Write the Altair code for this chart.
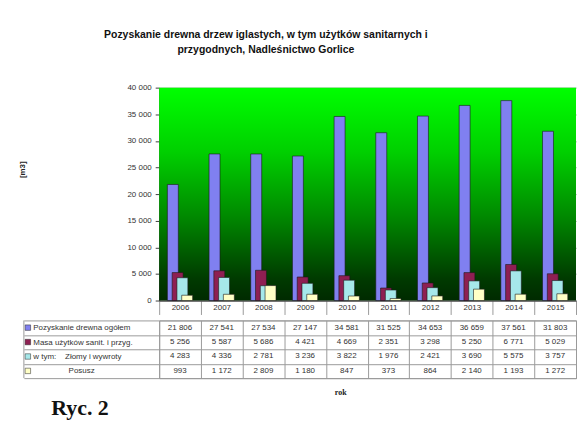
import altair as alt
import pandas as pd

# Pozyskanie drewna drzew iglastych (m3), Nadleśnictwo Gorlice
lata = ["2006", "2007", "2008", "2009", "2010", "2011", "2012", "2013", "2014", "2015"]
ogolem = [21806, 27541, 27534, 27147, 34581, 31525, 34653, 36659, 37561, 31803]
sanitarne = [5256, 5587, 5686, 4421, 4669, 2351, 3298, 5250, 6771, 5029]
zlomy = [4283, 4336, 2781, 3236, 3822, 1976, 2421, 3690, 5575, 3757]
posusz = [993, 1172, 2809, 1180, 847, 373, 864, 2140, 1193, 1272]

NBSP = "\u00a0"
ZWSP = "\u200b"  # keeps the leading spaces of the label from being trimmed
nazwy = [
    "Pozyskanie drewna ogółem",
    "Masa użytków sanit. i przyg.",
    "w tym:" + NBSP * 4 + "Złomy i wywroty",
    ZWSP + NBSP * 16 + "Posusz",
]
kolory = ["#8080f0", "#8e1f52", "#a6e8ea", "#ffffc6"]
przesuniecia = [-7.2, -2.4, 2.4, 7.2]

rows = []
for nazwa, seria in zip(nazwy, [ogolem, sanitarne, zlomy, posusz]):
    for rok, v in zip(lata, seria):
        rows.append({"rok": rok, "seria": nazwa, "wartosc": v})
df = pd.DataFrame(rows)

FONT = "Liberation Sans"
W = 419
GRAY = "#9a9a9a"


def x_scale():
    return alt.Scale(type="band", domain=lata, paddingInner=0, paddingOuter=0)


# --- wykres słupkowy ---
os_x = alt.Axis(
    title=None, orient="bottom", tickBand="extent", tickSize=14, tickColor=GRAY,
    domainColor="#303030", labelAngle=0, labelPadding=-11, labelFont=FONT,
    labelFontSize=8, labelColor="#333333",
)
os_y = alt.Axis(
    values=list(range(0, 40001, 5000)), format=",d", title="[m3]",
    titleX=-133, titleY=82, titleFont=FONT, titleFontSize=8, titleFontWeight="bold",
    titleColor="#222222", labelFont=FONT, labelFontSize=8, labelColor="#333333",
    labelPadding=4, tickSize=4, tickColor="#404040", domainColor="#404040",
    gridColor="#000000", gridOpacity=0.45,
)

gradient = alt.LinearGradient(
    gradient="linear",
    stops=[
        alt.GradientStop(color="#00ff00", offset=0),
        alt.GradientStop(color="#00d000", offset=0.3),
        alt.GradientStop(color="#008a00", offset=0.6),
        alt.GradientStop(color="#003a00", offset=0.9),
        alt.GradientStop(color="#002a00", offset=1),
    ],
    x1=0, x2=0, y1=0, y2=1,
)
tlo = alt.Chart(pd.DataFrame({"a": [0]})).mark_rect(color=gradient).encode(
    x=alt.value(0), x2=alt.value("width"), y=alt.value(0), y2=alt.value("height")
)

warstwy = [tlo]
for nazwa, kolor, dx in zip(nazwy, kolory, przesuniecia):
    warstwy.append(
        alt.Chart(df)
        .transform_filter(alt.datum.seria == nazwa)
        .mark_bar(size=11, xOffset=dx, color=kolor, stroke="#1a1a1a", strokeWidth=0.6)
        .encode(
            x=alt.X("rok:N", scale=x_scale(), axis=os_x),
            y=alt.Y("wartosc:Q", scale=alt.Scale(domain=[0, 40000]), axis=os_y),
        )
    )

wykres = alt.layer(*warstwy).properties(
    width=W, height=214, view=alt.ViewBackground(stroke="transparent")
)

# --- tabela danych ---
os_x_tab = alt.Axis(
    grid=True, tickBand="extent", labels=False, ticks=False, domain=False,
    gridColor=GRAY, title="rok", titleX=182, titlePadding=10,
    titleFont="Liberation Serif", titleFontSize=8, titleFontWeight="bold",
    titleColor="#222222",
)
os_y_tab = alt.Axis(
    title=None, orient="left", tickBand="extent", tickSize=136, tickColor=GRAY,
    grid=True, gridColor=GRAY, domain=False, labelAlign="left", labelPadding=-9,
    labelFont=FONT, labelFontSize=8, labelColor="#333333",
)
y_tab = alt.Y("seria:N", sort=nazwy, scale=alt.Scale(type="band", domain=nazwy, paddingInner=0, paddingOuter=0), axis=os_y_tab)

teksty = alt.Chart(df).mark_text(font=FONT, fontSize=8, color="#333333").encode(
    x=alt.X("rok:N", scale=x_scale(), axis=os_x_tab),
    y=y_tab,
    text=alt.Text("wartosc:Q", format=",d"),
)
znaczniki = alt.Chart(pd.DataFrame({"seria": nazwy})).mark_square(
    size=30, opacity=1, stroke="#222222", strokeWidth=0.5
).encode(
    x=alt.value(-132),
    y=y_tab,
    color=alt.Color("seria:N", scale=alt.Scale(domain=nazwy, range=kolory), legend=None),
)
ramka = alt.Chart(pd.DataFrame({"a": [0]})).mark_rule(color=GRAY).encode(
    x=alt.value(-136), y=alt.value(0), y2=alt.value("height")
)

tabela = alt.layer(teksty, znaczniki, ramka).properties(
    width=W, height=58,
    view=alt.ViewBackground(stroke=GRAY),
    title=alt.TitleParams(
        "Ryc. 2", orient="bottom", anchor="start", font="Liberation Serif",
        fontSize=22, fontWeight="bold", color="#111111", dx=28, offset=2,
    ),
)

chart = (
    alt.vconcat(wykres, tabela, spacing=0)
    .properties(
        title=alt.TitleParams(
            ["Pozyskanie drewna drzew iglastych, w tym użytków sanitarnych i",
             "przygodnych, Nadleśnictwo Gorlice"],
            anchor="middle", font=FONT, fontSize=10.5, fontWeight="bold",
            color="#111111", lineHeight=15, dx=-32, offset=28,
        ),
        padding={"left": 18, "top": 29, "right": 0, "bottom": 0},
        background="white",
    )
    .configure(
        locale=alt.Locale(
            number=alt.NumberLocale(decimal=",", thousands=" ", grouping=[3], currency=["", " zł"])
        )
    )
)

chart.save("out.html", embed_options={"renderer": "svg", "actions": False})
